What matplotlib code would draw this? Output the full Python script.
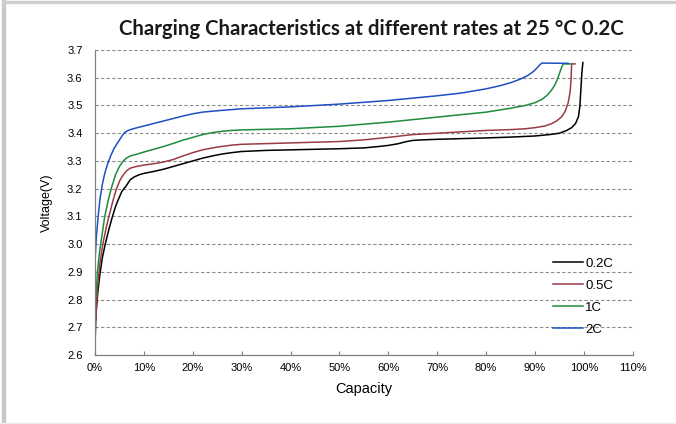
import matplotlib.pyplot as plt
from matplotlib.patches import Rectangle
from matplotlib.ticker import MultipleLocator, FuncFormatter

# Capacity (%) and voltage (V)
cap_02 = [0, 0.05, 0.15, 0.3, 0.6, 1, 1.5, 2.1, 2.8, 3.5, 4.1, 4.7, 5.5, 6.5, 7.2, 8, 9, 10, 12, 14,
          16, 18, 20, 22, 24, 26, 28, 30, 35, 40, 50, 55, 58, 60, 62, 63.5, 65, 67, 70, 80, 85, 90,
          93, 95, 96.5, 97.5, 98.3, 98.9, 99.2, 99.4, 99.6, 99.8]
v_02 = [2.60, 2.66, 2.72, 2.77, 2.83, 2.89, 2.95, 3.00, 3.05, 3.095, 3.13, 3.158, 3.19, 3.213,
        3.232, 3.242, 3.25, 3.255, 3.262, 3.27, 3.28, 3.29, 3.30, 3.31, 3.318, 3.325, 3.33, 3.334,
        3.338, 3.34, 3.344, 3.347, 3.352, 3.356, 3.362, 3.369, 3.374, 3.376, 3.378, 3.383, 3.386,
        3.39, 3.395, 3.40, 3.41, 3.42, 3.435, 3.46, 3.50, 3.56, 3.62, 3.655]

cap_05 = [0.2, 0.5, 1, 1.6, 2.3, 3, 3.7, 4.4, 5.1, 5.8, 6.5, 7.2, 8.5, 10, 12, 14, 16, 18, 20, 22,
          25, 28, 30, 40, 50, 55, 60, 65, 70, 80, 85, 88, 90, 92, 93.5, 94.5, 95.5, 96.2, 96.8,
          97.2, 97.4, 97.5, 98.2]
v_05 = [2.735, 2.84, 2.93, 3.00, 3.06, 3.11, 3.158, 3.20, 3.23, 3.25, 3.265, 3.274, 3.28, 3.285,
        3.29, 3.296, 3.305, 3.318, 3.33, 3.34, 3.35, 3.357, 3.36, 3.365, 3.37, 3.376, 3.385,
        3.395, 3.40, 3.41, 3.413, 3.416, 3.42, 3.426, 3.435, 3.445, 3.46, 3.48, 3.51, 3.55, 3.60,
        3.65, 3.65]

cap_1 = [0.2, 0.5, 1, 1.5, 2, 2.7, 3.4, 4.2, 5, 5.7, 6.4, 7.2, 8.5, 10, 12, 14, 16, 18, 20, 22,
         24, 26, 28, 30, 40, 50, 60, 70, 80, 85, 88, 90, 91.5, 92.5, 93.3, 94, 94.6, 95.1, 95.5,
         95.8, 97.5]
v_1 = [2.81, 2.90, 2.98, 3.04, 3.10, 3.158, 3.205, 3.25, 3.28, 3.298, 3.31, 3.318, 3.324, 3.332,
       3.342, 3.352, 3.363, 3.375, 3.385, 3.395, 3.402, 3.407, 3.41, 3.412, 3.416, 3.425, 3.44,
       3.458, 3.476, 3.49, 3.50, 3.51, 3.523, 3.537, 3.553, 3.572, 3.595, 3.62, 3.64, 3.65, 3.65]

cap_2 = [0, 0.3, 0.6, 1, 1.5, 2, 2.6, 3.2, 3.9, 4.5, 5.1, 5.6, 6.1, 6.8, 8, 10, 12, 14, 16, 18,
         20, 22, 25, 30, 40, 50, 60, 70, 75, 80, 83, 85, 87, 88.5, 89.5, 90.3, 90.9, 91.4, 96.8]
v_2 = [2.94, 3.03, 3.09, 3.16, 3.215, 3.255, 3.29, 3.318, 3.345, 3.362, 3.378, 3.392, 3.403,
       3.41, 3.417, 3.426, 3.435, 3.444, 3.453, 3.462, 3.47, 3.476, 3.481, 3.488, 3.495, 3.505,
       3.518, 3.535, 3.545, 3.56, 3.572, 3.582, 3.595, 3.608, 3.62, 3.633, 3.645, 3.653, 3.652]

series = [
    ("0.2C", cap_02, v_02, "#000000"),
    ("0.5C", cap_05, v_05, "#9a3b45"),
    ("1C", cap_1, v_1, "#1e8c3c"),
    ("2C", cap_2, v_2, "#1f4fc4"),
]

plt.rcParams['font.family'] = ['Liberation Sans', 'DejaVu Sans']

fig = plt.figure(figsize=(6.76, 4.24), dpi=100)
ax = fig.add_axes([0.1405, 0.1627, 0.7955, 0.7193])

for label, x, y, color in series:
    ax.plot(x, y, color=color, lw=1.1, label=label, solid_joinstyle='round')

ax.set_xlim(0, 110)
ax.set_ylim(2.6, 3.7)
ax.xaxis.set_major_locator(MultipleLocator(10))
ax.yaxis.set_major_locator(MultipleLocator(0.1))
ax.xaxis.set_major_formatter(FuncFormatter(lambda v, p: f"{v:.0f}%"))
ax.yaxis.set_major_formatter(FuncFormatter(lambda v, p: f"{v:.1f}"))
ax.tick_params(axis='x', direction='in', length=3, color='#808080', labelsize=8, pad=6)
ax.tick_params(axis='y', length=0, labelsize=8, pad=9)
ax.grid(axis='y', linestyle=(0, (3, 2)), color='#8c8c8c', lw=0.8)
ax.set_axisbelow(True)
for s in ['top', 'right']:
    ax.spines[s].set_visible(False)
for s in ['left', 'bottom']:
    ax.spines[s].set_color('#808080')
    ax.spines[s].set_linewidth(0.9)

ax.set_xlabel("Capacity", fontsize=10.5, labelpad=6)
ax.set_ylabel("Voltage(V)", fontsize=9, labelpad=10)

ax.legend(loc='lower left', bbox_to_anchor=(0.842, 0.045), frameon=False, fontsize=9.5,
          handlelength=2.3, handletextpad=0.15, labelspacing=0.75, borderaxespad=0)

fig.text(0.549, 0.932, "Charging Characteristics at different rates at 25 °C 0.2C",
         ha='center', va='center', fontsize=14.7, fontweight='bold',
         family=['Lato', 'DejaVu Sans'], color='#1a1a1a')

# light grey frame from the screenshot
fig.patches.append(Rectangle((2 / 676, 0), 3 / 676, 1, transform=fig.transFigure,
                             color='#c8c8c8', zorder=0))
fig.patches.append(Rectangle((2 / 676, 1 - 3 / 424), 1, 2 / 424, transform=fig.transFigure,
                             color='#cfcfcf', zorder=0))
fig.patches.append(Rectangle((0, 0), 1, 1.5 / 424, transform=fig.transFigure,
                             color='#ececec', zorder=0))

fig.savefig("out.png", dpi=100)
